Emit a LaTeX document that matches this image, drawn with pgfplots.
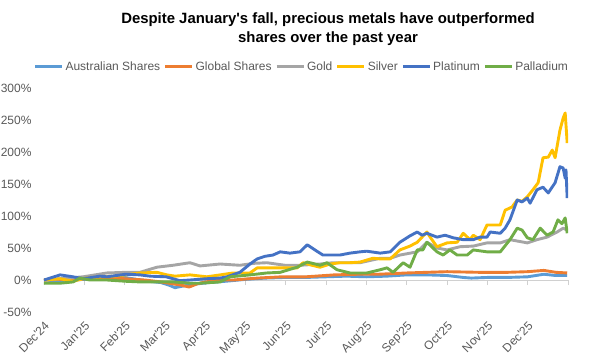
\documentclass[border=0pt]{standalone}
\usepackage{pgfplots}
\pgfplotsset{compat=1.18}
\usepackage{fontspec}
\setmainfont{Liberation Sans}
\definecolor{ausc}{HTML}{5B9BD5}
\definecolor{glbc}{HTML}{ED7D31}
\definecolor{goldc}{HTML}{A5A5A5}
\definecolor{silc}{HTML}{FFC000}
\definecolor{platc}{HTML}{4472C4}
\definecolor{palc}{HTML}{70AD47}
\definecolor{txt}{HTML}{595959}
\definecolor{gridc}{HTML}{D0D0D0}
\newcommand{\q}{\textquotesingle}
\begin{document}
\begin{tikzpicture}[x=1pt,y=1pt]
\useasboundingbox (0,0) rectangle (603,360);
\node[align=center, font=\bfseries\fontsize{14.9}{19}\selectfont, text=black] at (328,331) {Despite January\q s fall, precious metals have outperformed\\shares over the past year};
% decoration axis: zero line with month ticks
\begin{axis}[at={(44pt,48pt)}, anchor=south west, scale only axis,
  width=524pt, height=224pt, xmin=0, xmax=13, ymin=-50, ymax=300,
  axis x line=middle, axis y line=none,
  x axis line style={-, draw=gridc, line width=0.75pt},
  xtick={0,...,13}, xticklabels={}, ytick=\empty,
  tick align=outside, major tick length=5pt,
  xtick style={draw=gridc, line width=0.75pt}]
\addplot[draw=none] coordinates {(0,0)};
\end{axis}
% data axis
\begin{axis}[at={(44pt,48pt)}, anchor=south west, scale only axis,
  width=524pt, height=224pt, xmin=0, xmax=13, ymin=-50, ymax=300,
  axis line style={draw=none}, tick style={draw=none},
  /pgf/number format/assume math mode=true,
  xtick={0,...,12},
  xticklabels={Dec\q 24,Jan\q 25,Feb\q 25,Mar\q 25,Apr\q 25,May\q 25,Jun\q 25,Jul\q 25,Aug\q 25,Sep\q 25,Oct\q 25,Nov\q 25,Dec\q 25},
  xticklabel style={yshift=-4pt, rotate=45, anchor=north east, font=\fontsize{12}{14}\selectfont, text=txt},
  ytick={-50,0,50,100,150,200,250,300},
  yticklabel={\pgfmathprintnumber{\tick}\%},
  yticklabel style={font=\fontsize{12}{14}\selectfont, text=txt, xshift=-9pt},
  legend columns=6,
  legend style={at={(0.492,1.094)}, anchor=center, draw=none, fill=none,
    font=\fontsize{12}{14}\selectfont, text=txt,
    /tikz/every even column/.append style={column sep=1.5pt}},
  legend image code/.code={\draw[#1] (0pt,0pt) -- (27pt,0pt);},
  every axis plot/.append style={line width=2.9pt, line join=round, no marks}]
\addplot[ausc] coordinates {(0,0) (0.25,-1) (0.5,-2) (0.75,0) (1.0,1) (1.25,2) (1.5,3) (1.75,2) (2.0,4) (2.3,1) (2.6,-2) (2.9,-4) (3.1,-8) (3.25,-12) (3.4,-10) (3.5,-9) (3.8,-6) (4.1,-4) (4.5,-2) (5.0,1) (5.5,3) (6.0,4) (6.5,4) (7.0,5) (7.5,6) (8.0,5) (8.5,6) (9.0,8) (9.5,8) (10.0,7) (10.4,4) (10.6,3) (11.0,4) (11.5,4) (12.0,5) (12.4,9) (12.7,7) (12.98,7)};
\addlegendentry{Australian Shares}
\addplot[glbc] coordinates {(0,0) (0.4,1) (0.7,0) (1.0,2) (1.5,3) (2.0,2) (2.5,0) (2.9,-3) (3.2,-6) (3.4,-8) (3.6,-11) (3.8,-6) (4.0,-3) (4.4,0) (4.7,0) (5.3,3) (5.9,5) (6.5,5) (7.2,8) (7.8,9) (8.3,9) (9.0,11) (9.5,12) (10.0,13) (10.8,12) (11.5,12) (12.0,13) (12.4,15) (12.7,12) (12.98,11)};
\addlegendentry{Global Shares}
\addplot[goldc] coordinates {(0,0) (0.40,2) (0.97,5) (1.56,11) (2.03,12) (2.38,12) (2.80,20) (3.20,23) (3.62,27) (3.87,22) (4.04,23) (4.37,25) (4.86,23) (5.2,26) (5.53,27) (5.98,23) (6.35,23) (6.85,25) (7.17,27) (7.84,27) (8.34,34) (8.59,34) (8.83,39) (9.26,44) (9.50,59) (9.75,50) (10.00,47) (10.32,52) (10.65,53) (10.99,58) (11.32,58) (11.56,63) (11.99,58) (12.23,63) (12.48,67) (12.73,75) (12.88,81) (12.98,78)};
\addlegendentry{Gold}
\addplot[silc] coordinates {(0,0) (0.40,2) (0.72,-2) (1.04,3) (1.39,5) (1.76,6) (2.03,8) (2.38,11) (2.80,12) (3.05,8) (3.25,6) (3.62,8) (4.04,5) (4.37,8) (4.69,11) (5.11,11) (5.29,19) (5.61,19) (5.86,19) (6.28,19) (6.43,27) (6.65,23) (6.85,20) (7.10,25) (7.34,27) (7.59,27) (7.84,28) (8.16,34) (8.34,33) (8.59,33) (8.83,47) (9.08,53) (9.26,59) (9.50,75) (9.58,67) (9.75,52) (10.00,58) (10.25,59) (10.40,73) (10.57,63) (10.65,70) (10.82,63) (10.99,86) (11.19,86) (11.32,86) (11.44,109) (11.61,114) (11.74,125) (11.86,123) (11.99,130) (12.13,141) (12.26,152) (12.38,191) (12.51,192) (12.61,203) (12.68,191) (12.80,234) (12.88,253) (12.93,261) (12.98,214)};
\addlegendentry{Silver}
\addplot[platc] coordinates {(0,0) (0.15,3) (0.40,8) (0.72,5) (0.97,2) (1.39,6) (1.56,5) (2.03,9) (2.38,8) (2.63,6) (3.03,5) (3.20,2) (3.37,-1) (3.62,0) (4.04,2) (4.37,3) (4.54,5) (4.86,12) (5.11,25) (5.29,33) (5.48,37) (5.68,39) (5.86,44) (6.10,42) (6.35,44) (6.53,55) (6.65,50) (6.77,45) (6.92,39) (7.34,39) (7.59,42) (7.84,44) (8.01,45) (8.34,42) (8.59,44) (8.83,59) (9.08,69) (9.26,75) (9.38,70) (9.50,73) (9.75,67) (9.95,70) (10.15,66) (10.40,63) (10.65,63) (10.82,67) (10.99,67) (11.07,75) (11.32,73) (11.44,81) (11.56,94) (11.74,125) (11.86,122) (11.99,128) (12.06,120) (12.23,141) (12.38,145) (12.51,136) (12.68,152) (12.80,177) (12.88,175) (12.93,159) (12.95,172) (12.98,128)};
\addlegendentry{Platinum}
\addplot[palc] coordinates {(0,-5) (0.40,-5) (0.72,-3) (0.89,3) (1.14,0) (1.56,0) (2.03,-2) (2.38,-3) (2.80,-3) (3.20,-3) (3.62,-5) (3.87,-5) (4.37,-3) (4.62,5) (5.11,8) (5.53,11) (5.86,12) (6.28,20) (6.53,28) (6.73,25) (6.85,23) (7.02,27) (7.27,16) (7.59,11) (8.01,11) (8.34,16) (8.51,19) (8.66,12) (8.91,27) (9.08,20) (9.26,47) (9.40,47) (9.50,59) (9.75,44) (9.90,39) (10.07,47) (10.25,39) (10.50,39) (10.65,47) (10.99,44) (11.32,44) (11.56,63) (11.74,81) (11.86,78) (11.99,66) (12.13,63) (12.31,81) (12.48,70) (12.63,75) (12.75,94) (12.85,88) (12.93,97) (12.98,73)};
\addlegendentry{Palladium}
\end{axis}
\end{tikzpicture}
\end{document}
